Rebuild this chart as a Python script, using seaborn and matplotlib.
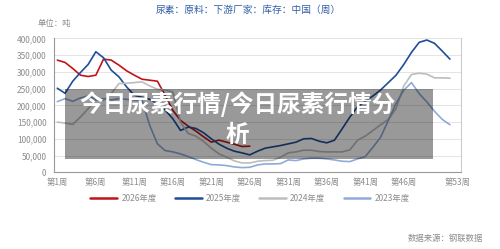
import numpy as np
import pandas as pd
import seaborn as sns
import matplotlib.pyplot as plt
from matplotlib.patches import Rectangle

# weekly inventory, tonnes
weeks_2026 = list(range(1, 27))
inv_2026 = [335, 328, 310, 290, 286, 290, 338, 335, 320, 303,
            290, 278, 275, 272, 230, 185, 155, 138, 123, 106,
            90, 96, 90, 84, 77, 78]

weeks_full = list(range(1, 53))
inv_2025 = [251, 236, 272, 298, 322, 360, 342, 305, 285, 255,
            230, 224, 218, 205, 186, 160, 125, 135, 131, 118,
            100, 84, 72, 63, 58, 52, 63, 72, 76, 80,
            85, 90, 100, 101, 93, 88, 96, 130, 165, 196,
            212, 228, 246, 268, 290, 322, 358, 388, 395, 385,
            362, 338]
inv_2024 = [150, 147, 143, 165, 190, 215, 215, 235, 265, 266,
            268, 270, 258, 248, 246, 240, 150, 116, 108, 92,
            72, 55, 45, 34, 28, 28, 33, 35, 36, 45,
            58, 61, 66, 66, 62, 61, 61, 61, 67, 96,
            108, 125, 142, 158, 190, 258, 292, 296, 293, 282,
            282, 281]
inv_2023 = [211, 220, 212, 222, 228, 218, 220, 216, 220, 218,
            216, 215, 140, 85, 65, 61, 55, 47, 38, 30,
            23, 22, 20, 16, 14, 15, 22, 25, 25, 26,
            37, 35, 40, 42, 42, 40, 37, 33, 32, 40,
            47, 75, 105, 155, 206, 245, 268, 235, 210, 182,
            158, 142]

years = ['2026年度', '2025年度', '2024年度', '2023年度']
colors = ['#c0141c', '#1f4e99', '#bdbdbd', '#8eaad8']

tick_weeks = [1, 6, 11, 16, 21, 26, 31, 36, 41, 46, 53]
tick_labels = ['第%d周' % w for w in tick_weeks]

frames = []
for name, wk, vals in [(years[0], weeks_2026, inv_2026),
                       (years[1], weeks_full, inv_2025),
                       (years[2], weeks_full, inv_2024),
                       (years[3], weeks_full, inv_2023)]:
    frames.append(pd.DataFrame({'week': wk,
                                'value': np.array(vals) * 1000,
                                'year': name}))
df = pd.concat(frames, ignore_index=True)

sns.set_theme(style='white')
plt.rcParams['font.family'] = ['Noto Sans CJK SC', 'DejaVu Sans']

fig = plt.figure(figsize=(5, 2.49), dpi=100)
ax = fig.add_axes([0.107, 0.308, 0.816, 0.538])

sns.lineplot(data=df, x='week', y='value', hue='year', hue_order=years,
             palette=colors, linewidth=1.2, ax=ax, legend=True)

ax.set_xlim(0.5, 53.5)
ax.set_ylim(0, 400000)
ax.set_yticks(np.arange(0, 400001, 50000))
ax.set_yticklabels(['{:,}'.format(v) for v in range(0, 400001, 50000)],
                   fontsize=6, color='#8c8c8c')
ax.set_xticks(tick_weeks)
ax.set_xticklabels(tick_labels, fontsize=6, color='#8c8c8c')
ax.set_xticks(np.arange(5.5, 53, 5), minor=True)
ax.tick_params(axis='x', which='major', length=0, pad=4)
ax.tick_params(axis='x', which='minor', length=3, color='#999999', width=0.8)
ax.tick_params(axis='y', length=3, color='#999999', width=0.8, pad=2)
ax.yaxis.grid(True, color='#e4e4e4', linewidth=0.7)
ax.set_xlabel('')
ax.set_ylabel('')
for s in ['left', 'bottom']:
    ax.spines[s].set_color('#999999')
    ax.spines[s].set_linewidth(0.8)
ax.spines['right'].set_color('#cccccc')
ax.spines['right'].set_linewidth(0.8)
ax.spines['top'].set_visible(False)

handles, labels = ax.get_legend_handles_labels()
ax.get_legend().remove()
leg = fig.legend(handles, labels, loc='center', bbox_to_anchor=(0.5, 0.205),
                 ncol=4, frameon=False, fontsize=6, handlelength=3.2,
                 columnspacing=2.2, handletextpad=0.5)
for t in leg.get_texts():
    t.set_color('#8c8c8c')
for h in leg.get_lines():
    h.set_linewidth(1.8)

fig.text(0.497, 0.96, '尿素：原料：下游厂家：库存：中国（周）', ha='center',
         va='center', fontsize=7, color='#2f5fa7')
fig.text(0.076, 0.905, '单位：吨', ha='left', va='center', fontsize=6,
         color='#8c8c8c')
fig.text(0.816, 0.044, '数据来源：钢联数据', ha='left', va='center',
         fontsize=6, color='#8c8c8c')

# semi-transparent banner over the plot
fig.patches.append(Rectangle((0.13, 0.361), 0.736, 0.281,
                             transform=fig.transFigure, facecolor='black',
                             alpha=0.4, edgecolor='none', zorder=5))
fig.text(0.475, 0.582, '今日尿素行情/今日尿素行情分', ha='center',
         va='center', fontsize=17, fontweight='bold', color='white', zorder=6)
fig.text(0.475, 0.456, '析', ha='center', va='center', fontsize=17,
         fontweight='bold', color='white', zorder=6)

fig.savefig('out.png', dpi=100)
